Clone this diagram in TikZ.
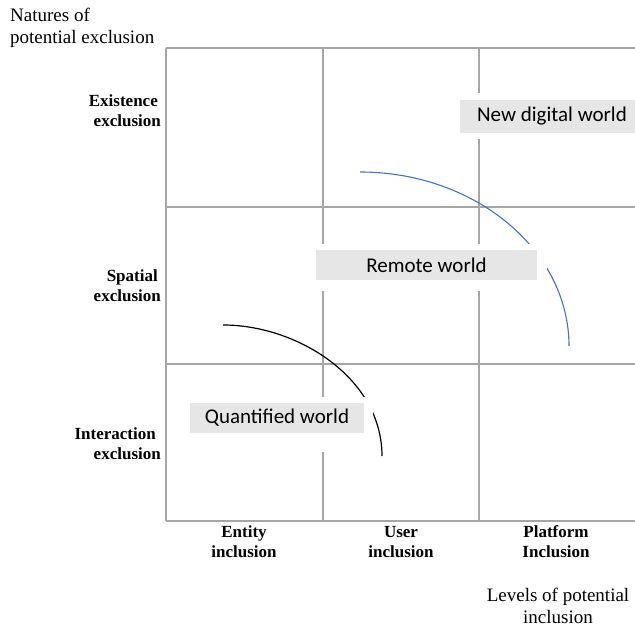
\documentclass[tikz,border=0pt]{standalone}
\usepackage{fontspec}
\setmainfont{Liberation Serif}
\newfontfamily\calibri{Carlito}
\definecolor{gridgray}{HTML}{A6A6A6}
\definecolor{boxgray}{HTML}{E6E6E6}
\definecolor{arcblue}{HTML}{4472C4}
\tikzset{
  gridline/.style={draw=gridgray, line width=2pt},
  axislabel/.style={inner sep=0pt, font=\fontsize{19}{22}\selectfont},
  catlabel/.style={inner sep=0pt, font=\fontsize{17}{20}\selectfont\bfseries},
  worldbox/.style={fill=boxgray, inner sep=0pt, font=\calibri\fontsize{21}{24}\selectfont},
  pad/.style={fill=white}
}
\begin{document}
\begin{tikzpicture}[x=1pt,y=-1pt]
\useasboundingbox (0,0) rectangle (635,628);
% grid
\coordinate (c00) at (166,48);
\coordinate (c01) at (323,48);
\coordinate (c02) at (479,48);
\coordinate (b0) at (166,521);
\coordinate (b1) at (323,521);
\coordinate (b2) at (479,521);
\coordinate (r0) at (635,48);
\coordinate (l1) at (166,207);
\coordinate (r1) at (635,207);
\coordinate (l2) at (166,364);
\coordinate (r2) at (635,364);
\coordinate (r3) at (635,521);
\draw[gridline] (c00) -- (b0);
\draw[gridline] (c01) -- (b1);
\draw[gridline] (c02) -- (b2);
\draw[gridline] (c00) -- (r0);
\draw[gridline] (l1) -- (r1);
\draw[gridline] (l2) -- (r2);
\draw[gridline] (b0) -- (r3);
% arcs
\draw[arcblue, line width=1.1pt] (360,172) .. controls (475,172) and (569,250) .. (569,346);
\draw[black, line width=1.2pt] (223,325) .. controls (297.5,325) and (382,378) .. (382,456);
% white pads
\fill[pad] (454,93) rectangle (640,139);
\fill[pad] (310,244) rectangle (547,291);
\fill[pad] (184,397) rectangle (373,452);
% world boxes
\node[worldbox, minimum width=184pt, minimum height=33pt] (ndw) at (552,116.5) {New digital world};
\node[worldbox, minimum width=221pt, minimum height=30pt] (rw) at (426.5,265) {Remote world};
\node[worldbox, minimum width=174pt, minimum height=30pt] (qw) at (277,418) {Quantified world};
% axis labels
\node[axislabel, align=left, anchor=west] (yax) at (10,28) {Natures of\\potential exclusion};
\node[axislabel, align=center] (xax) at (558,605.5) {Levels of potential\\inclusion};
% row labels
\node[catlabel, align=right, anchor=east] (ee) at (161,111) {Existence\kern3pt\\exclusion};
\node[catlabel, align=right, anchor=east] (se) at (161,286) {Spatial\kern3pt\\exclusion};
\node[catlabel, align=right, anchor=east] (ie) at (161,444) {Interaction\kern5pt\\exclusion};
% column labels
\node[catlabel, align=center] (ei) at (244,542) {Entity\\inclusion};
\node[catlabel, align=center] (ui) at (401,542) {User\\inclusion};
\node[catlabel, align=center] (pi) at (556,542) {Platform\\Inclusion};
\end{tikzpicture}
\end{document}
